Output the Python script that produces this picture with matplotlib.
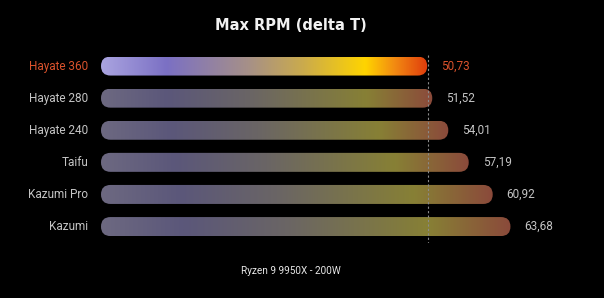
import matplotlib
matplotlib.use("Agg")
import matplotlib.pyplot as plt
import numpy as np
from matplotlib.colors import LinearSegmentedColormap
from matplotlib.patches import FancyBboxPatch

# data
coolers = ["Hayate 360", "Hayate 280", "Hayate 240", "Taifu", "Kazumi Pro", "Kazumi"]
max_rpm_delta = [50.73, 51.52, 54.01, 57.19, 60.92, 63.68]
value_labels = ["50,73", "51,52", "54,01", "57,19", "60,92", "63,68"]
highlight = "Hayate 360"

title = "Max RPM (delta T)"
subtitle = "Ryzen 9 9950X - 200W"

# gradients along each bar
hot_cmap = LinearSegmentedColormap.from_list("hot_bar", [
    (0.0, "#aaa4e0"), (0.2, "#7b70c4"), (0.45, "#a69088"),
    (0.62, "#cbab4c"), (0.81, "#ffd400"), (0.9, "#f28a12"), (1.0, "#e03c0c")])
dim_cmap = LinearSegmentedColormap.from_list("dim_bar", [
    (0.0, "#6d6981"), (0.2, "#5b577a"), (0.45, "#6a6565"),
    (0.8, "#878035"), (1.0, "#8b4a3b")])

W, H = 604, 298
fig = plt.figure(figsize=(W / 100, H / 100), dpi=100, facecolor="black")

px_per_unit = 6.43
ax_left, ax_right = 101, 600
ax_top, row_h = 50, 32.1
n = len(coolers)
ax = fig.add_axes([ax_left / W, 1 - (ax_top + n * row_h) / H,
                   (ax_right - ax_left) / W, n * row_h / H])
ax.set_facecolor("black")
xmax = (ax_right - ax_left) / px_per_unit
ax.set_xlim(0, xmax)
ax.set_ylim(n, 0)
ax.axis("off")

bar_h = 19 / row_h
radius_x = 9.5 / px_per_unit
aspect = (1 / row_h) / (1 / px_per_unit)
grad = np.linspace(0, 1, 512).reshape(1, -1)

for i, (name, val, lab) in enumerate(zip(coolers, max_rpm_delta, value_labels)):
    yc = i + 0.5
    hot = name == highlight
    patch = FancyBboxPatch((0, yc - bar_h / 2), val, bar_h,
                           boxstyle=f"round,pad=0,rounding_size={radius_x}",
                           mutation_aspect=aspect, facecolor="none",
                           edgecolor="none", linewidth=0)
    ax.add_patch(patch)
    im = ax.imshow(grad, cmap=hot_cmap if hot else dim_cmap, aspect="auto",
                   extent=(0, val, yc + bar_h / 2, yc - bar_h / 2),
                   interpolation="bilinear")
    im.set_clip_path(patch)

    txt_color = "#d9522c" if hot else "#c4c4c4"
    ax.text(-13 / px_per_unit, yc, name, ha="right", va="center",
            fontsize=8.5, family="Roboto", color=txt_color, clip_on=False)
    ax.text(val + 14 / px_per_unit, yc, lab, ha="left", va="center",
            fontsize=8.5, family="Roboto", color=txt_color, clip_on=False)

ax.set_xlim(0, xmax)
ax.set_ylim(n, 0)

# reference line at the best result
ax.vlines(max_rpm_delta[0] + 0.2, 5 / row_h, n, colors="#8a8a8a",
          linestyles=(0, (2, 2)), linewidth=0.8, zorder=0.5)

fig.text(291 / W, 1 - 25 / H, title, ha="center", va="center",
         fontsize=10.5, fontweight="bold", family="DejaVu Sans", color="#f2f2f2")
fig.text(291 / W, 1 - 271 / H, subtitle, ha="center", va="center",
         fontsize=7.2, family="Roboto", color="#e6e6e6")

fig.savefig("out.png", dpi=100, facecolor="black")
